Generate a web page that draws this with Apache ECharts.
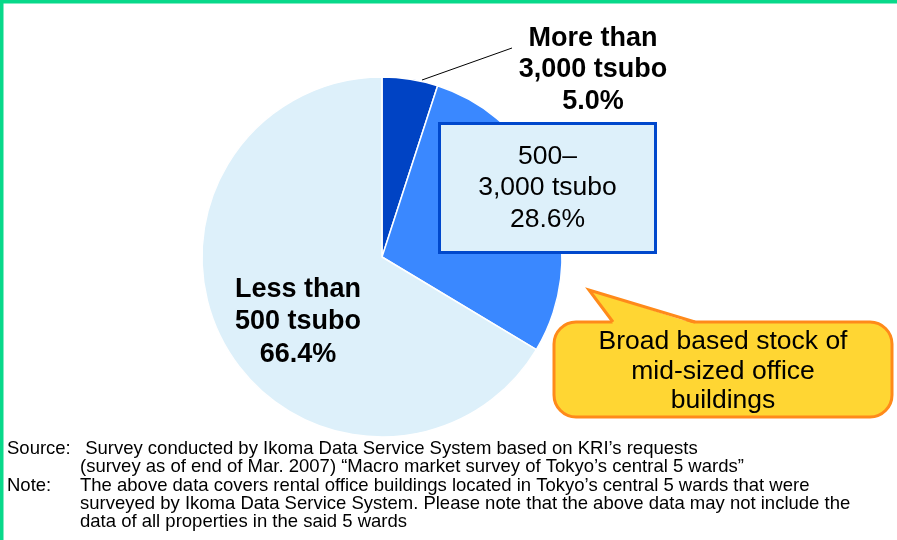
<!DOCTYPE html>
<html>
<head>
<meta charset="utf-8">
<script src="https://cdn.jsdelivr.net/npm/echarts@6/dist/echarts.min.js"></script>
<style>
  html, body { margin: 0; padding: 0; background: #fff; }
  #chart { width: 897px; height: 540px; }
</style>
</head>
<body>
<div id="chart"></div>
<script>
// Share of office building stock by floor area
const categories = ['More than\n3,000 tsubo', '500–\n3,000 tsubo', 'Less than\n500 tsubo'];
const shares = [5.0, 28.6, 66.4];
const sliceColors = ['#0043C4', '#3A88FF', '#DDF0FA'];

const calloutLines = ['Broad based stock of', 'mid-sized office', 'buildings'];
const sourceLines = [
  ['Source:', ' Survey conducted by Ikoma Data Service System based on KRI\u2019s requests'],
  ['', '(survey as of end of Mar. 2007) \u201cMacro market survey of Tokyo\u2019s central 5 wards\u201d'],
  ['Note:', 'The above data covers rental office buildings located in Tokyo\u2019s central 5 wards that were'],
  ['', 'surveyed by Ikoma Data Service System. Please note that the above data may not include the'],
  ['', 'data of all properties in the said 5 wards']
];

const FONT = '"Liberation Sans", Arial, sans-serif';
const chart = echarts.init(document.getElementById('chart'), null, { renderer: 'canvas' });

const labelStyles = [
  { fontSize: 27, fontWeight: 'bold', lineHeight: 31.5, color: '#000' },
  {
    fontSize: 26.5, fontWeight: 'normal', lineHeight: 31.7, color: '#000',
    backgroundColor: '#DDF0FA', borderColor: '#0048CC', borderWidth: 3,
    width: 213, height: 126, padding: [0, 0, 0, 0]
  },
  { fontSize: 27, fontWeight: 'bold', lineHeight: 32.5, color: '#000' }
];
const labelSpots = [
  { x: 593, y: 70, line: [[422, 80], [512, 48], [512, 48]] },
  { x: 547.5, y: 188 },
  { x: 298, y: 322 }
];

const pieData = categories.map((name, i) => ({
  name: name,
  value: shares[i],
  itemStyle: { color: sliceColors[i] },
  label: Object.assign({
    show: true, position: 'outside', align: 'center', fontFamily: FONT,
    formatter: p => p.name + '\n' + p.value.toFixed(1) + '%'
  }, labelStyles[i]),
  labelLine: { show: i === 0, lineStyle: { color: '#000', width: 1 }, length: 10, length2: 10 }
}));

const graphics = [];
// callout bubble: rounded body, then pointer fill and pointer outline
graphics.push({
  type: 'rect', z: 10,
  shape: { x: 554, y: 322, width: 338, height: 95, r: 22 },
  style: { fill: '#FFD633', stroke: '#FF8A1A', lineWidth: 3 }
});
graphics.push({
  type: 'polygon', z: 11,
  shape: { points: [[613, 324], [589, 290], [695, 324]] },
  style: { fill: '#FFD633' }
});
graphics.push({
  type: 'polyline', z: 12,
  shape: { points: [[613, 322], [589, 290], [695, 322]] },
  style: { stroke: '#FF8A1A', lineWidth: 3, fill: null, lineJoin: 'miter' }
});
calloutLines.forEach((t, i) => {
  graphics.push({
    type: 'text', x: 723, y: 342 + i * 29.5, z: 13,
    style: { text: t, fill: '#000', font: '26.5px ' + FONT, textAlign: 'center', textVerticalAlign: 'middle' }
  });
});
sourceLines.forEach((row, i) => {
  const y = 449 + i * 18.3;
  if (row[0]) {
    graphics.push({ type: 'text', x: 7, y: y, style: { text: row[0], fill: '#000', font: '18.5px ' + FONT, textVerticalAlign: 'middle' } });
  }
  graphics.push({ type: 'text', x: 80, y: y, style: { text: row[1], fill: '#000', font: '18.5px ' + FONT, textVerticalAlign: 'middle' } });
});
// frame edges
graphics.push({ type: 'rect', shape: { x: 0, y: 0, width: 897, height: 3.5 }, style: { fill: '#08D98A' }, z: 20 });
graphics.push({ type: 'rect', shape: { x: 0, y: 0, width: 3.5, height: 540 }, style: { fill: '#08D98A' }, z: 20 });

chart.setOption({
  animation: false,
  backgroundColor: '#fff',
  series: [{
    type: 'pie',
    center: [382, 257],
    radius: 180,
    startAngle: 90,
    clockwise: true,
    avoidLabelOverlap: false,
    itemStyle: { borderColor: '#fff', borderWidth: 1.5 },
    data: pieData,
    labelLayout: function (p) {
      const s = labelSpots[p.dataIndex];
      const out = { x: s.x, y: s.y, align: 'center', verticalAlign: 'middle' };
      if (s.line) out.labelLinePoints = s.line;
      return out;
    },
    emphasis: { disabled: true }
  }],
  graphic: graphics
});
</script>
</body>
</html>
